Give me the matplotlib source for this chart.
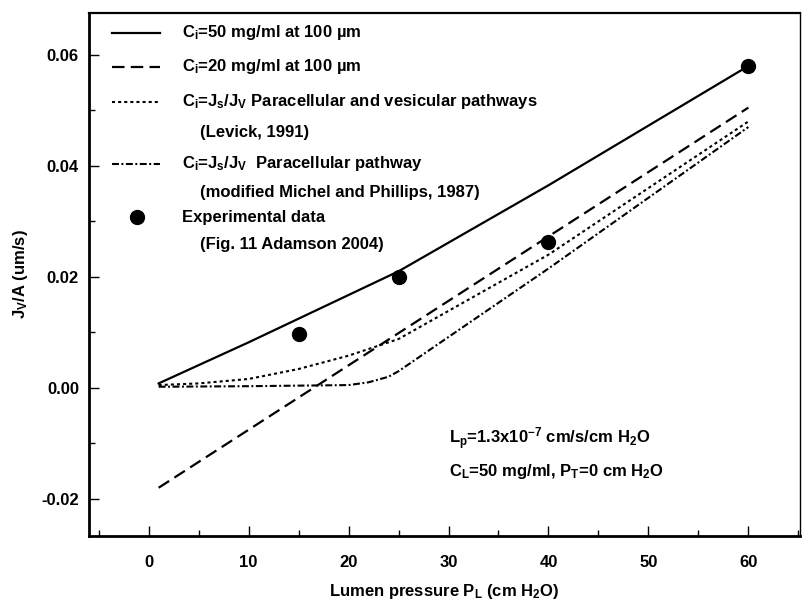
import numpy as np
import matplotlib
matplotlib.use("Agg")
import matplotlib.pyplot as plt
from matplotlib.ticker import MultipleLocator, FormatStrFormatter

plt.rcParams['font.family'] = ['Liberation Sans', 'DejaVu Sans']
plt.rcParams['font.weight'] = 'bold'
plt.rcParams['axes.labelweight'] = 'bold'
plt.rcParams['mathtext.fontset'] = 'custom'
plt.rcParams['mathtext.rm'] = 'Liberation Sans:bold'
plt.rcParams['mathtext.it'] = 'Liberation Sans:bold'
plt.rcParams['mathtext.bf'] = 'Liberation Sans:bold'
plt.rcParams['mathtext.default'] = 'rm'
plt.rcParams['lines.scale_dashes'] = False

# curves (P_L in cm H2O, Jv/A in um/s)
x_50 = [1, 10, 25, 40, 60]
y_50 = [0.0008, 0.0082, 0.021, 0.0365, 0.058]

x_20 = [1, 60]
y_20 = [-0.018, 0.0505]

x_lev = [1, 5, 10, 15, 20, 25, 40, 60]
y_lev = [0.0005, 0.0008, 0.0016, 0.0034, 0.0058, 0.0088, 0.0240, 0.048]

x_mic = [1, 10, 20, 22, 24, 25, 40, 60]
y_mic = [0.0002, 0.0003, 0.0005, 0.0010, 0.0020, 0.0030, 0.0215, 0.047]

x_exp = [15, 25, 40, 60]
y_exp = [0.0097, 0.0200, 0.0262, 0.0580]

labels = ["C$_i$=50 mg/ml at 100 µm",
          "C$_i$=20 mg/ml at 100 µm",
          "C$_i$=J$_s$/J$_V$ Paracellular and vesicular pathways",
          "C$_i$=J$_s$/J$_V$  Paracellular pathway",
          "Experimental data"]
sublabels = [None, None, "(Levick, 1991)",
             "(modified Michel and Phillips, 1987)",
             "(Fig. 11 Adamson 2004)"]

styles = [dict(ls='-', lw=1.6),
          dict(ls=(0, (9, 4.5)), lw=1.6),
          dict(ls=(0, (2.2, 2.2)), lw=1.5),
          dict(ls=(0, (5, 1.8, 1.4, 1.8)), lw=1.5)]

fig = plt.figure(figsize=(8.06, 6.05), dpi=100)
ax = fig.add_axes([0.110, 0.114, 0.883, 0.865])

curves = [(x_50, y_50), (x_20, y_20), (x_lev, y_lev), (x_mic, y_mic)]
for (xs, ys), st in zip(curves, styles):
    ax.plot(xs, ys, color='black', **st)
ax.plot(x_exp, y_exp, 'o', color='black', ms=10)

# hand-made legend, like the original
row_y = [0.962, 0.897, 0.830, 0.771, 0.711, 0.657, 0.609, 0.558]
rows = [0, 1, 2, 4, 6]
for i, r in enumerate(rows):
    yy = row_y[r]
    if i < 4:
        ax.plot([0.033, 0.10], [yy, yy], transform=ax.transAxes,
                color='black', **styles[i])
    else:
        ax.plot([0.068], [yy], 'o', transform=ax.transAxes,
                color='black', ms=10)
    ax.text(0.131, yy, labels[i], transform=ax.transAxes,
            fontsize=12, va='center', ha='left')
    if sublabels[i]:
        ax.text(0.156, row_y[r + 1], sublabels[i], transform=ax.transAxes,
                fontsize=12, va='center', ha='left')

ax.text(30, -0.0092, "L$_p$=1.3x10$^{-7}$ cm/s/cm H$_2$O", fontsize=12,
        va='center', ha='left')
ax.text(30, -0.0150, "C$_L$=50 mg/ml, P$_T$=0 cm H$_2$O", fontsize=12,
        va='center', ha='left')

ax.set_xlim(-6, 65.2)
ax.set_ylim(-0.0267, 0.0676)
ax.xaxis.set_major_locator(MultipleLocator(10))
ax.xaxis.set_minor_locator(MultipleLocator(5))
ax.yaxis.set_major_locator(MultipleLocator(0.02))
ax.yaxis.set_minor_locator(MultipleLocator(0.01))
ax.yaxis.set_major_formatter(FormatStrFormatter('%.2f'))
ax.tick_params(which='both', direction='in', top=False, right=False,
               labelsize=12, width=1)
ax.tick_params(which='major', length=7)
ax.tick_params(which='minor', length=4)
ax.tick_params(axis='x', pad=14)
ax.tick_params(axis='y', pad=7)
for side in ['left', 'bottom']:
    ax.spines[side].set_linewidth(2)
ax.spines['top'].set_linewidth(1.6)
ax.spines['right'].set_linewidth(1.0)

ax.set_xlabel("Lumen pressure P$_L$ (cm H$_2$O)", fontsize=12, labelpad=8)
ax.set_ylabel("J$_V$/A (um/s)", fontsize=12, labelpad=8)

fig.savefig("out.png", dpi=100)
